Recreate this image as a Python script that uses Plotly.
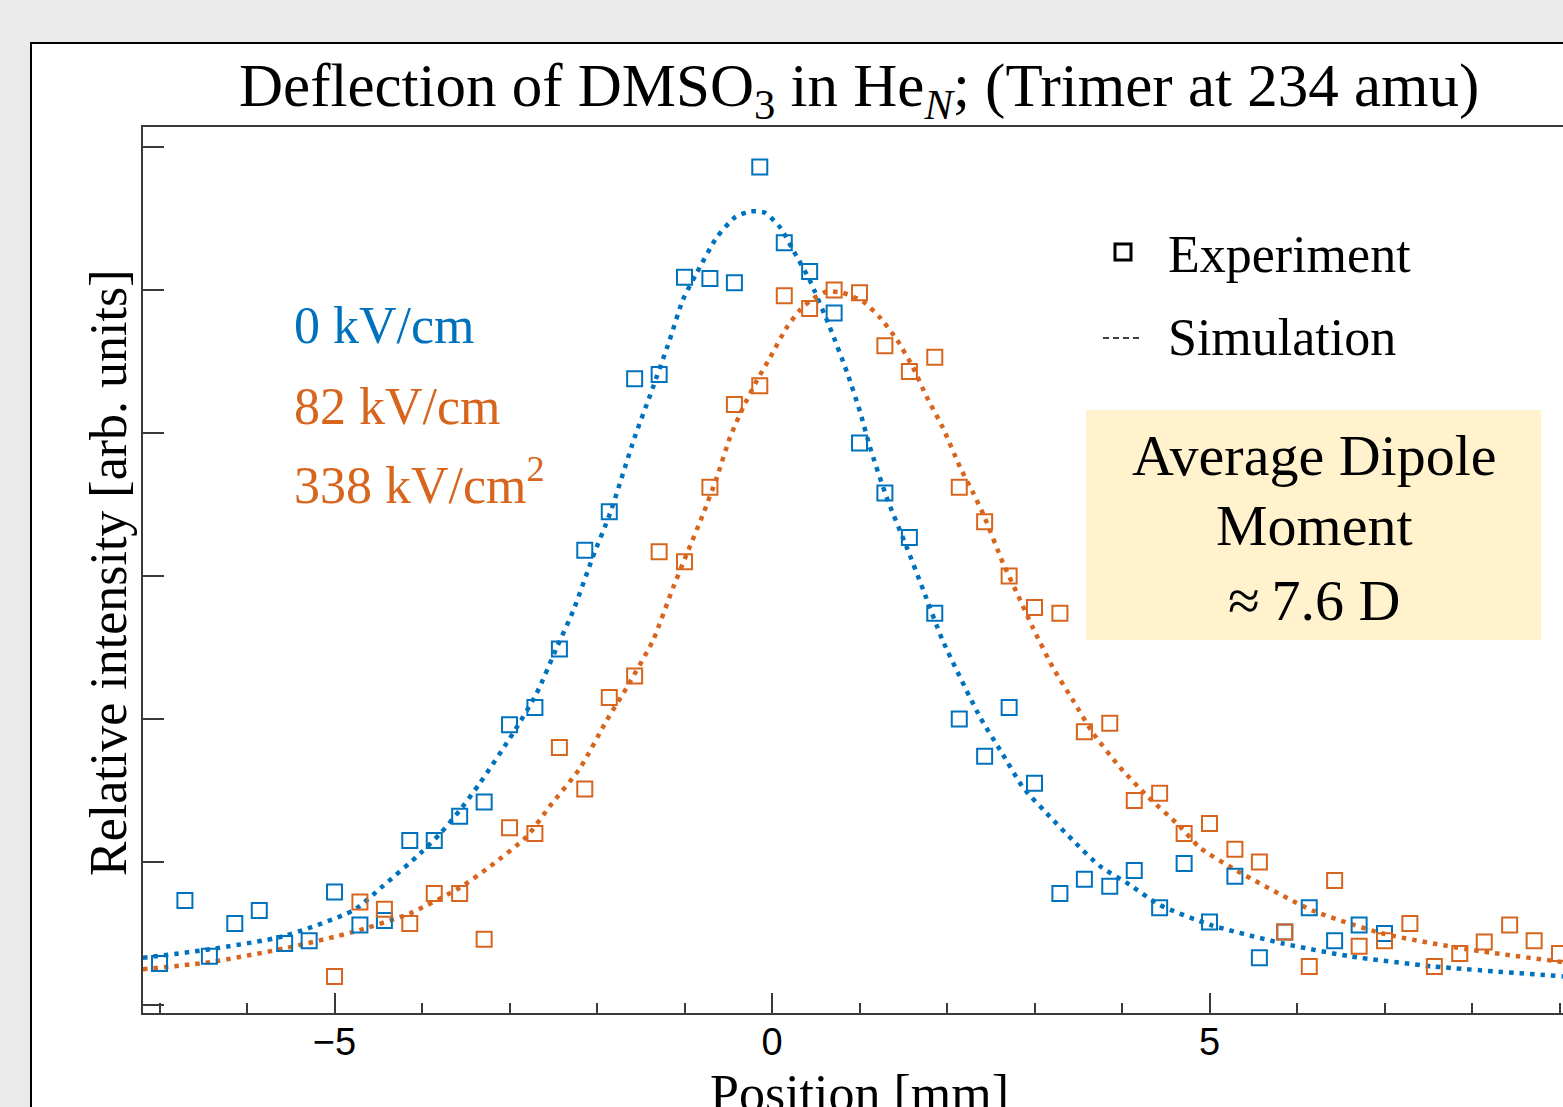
import plotly.graph_objects as go

# ---------------- data ----------------
exp0_x = [-7.00, -6.71, -6.43, -6.14, -5.86, -5.57, -5.29, -5.00, -4.71, -4.43,
          -4.14, -3.86, -3.57, -3.29, -3.00, -2.71, -2.43, -2.14, -1.86, -1.57,
          -1.29, -1.00, -0.71, -0.43, -0.14, 0.14, 0.43, 0.71, 1.00, 1.29,
          1.57, 1.86, 2.14, 2.43, 2.71, 3.00, 3.29, 3.57, 3.86, 4.14,
          4.43, 4.71, 5.00, 5.29, 5.57, 5.86, 6.14, 6.43, 6.71, 7.00]
exp0_y = [0.29, 0.73, 0.34, 0.57, 0.66, 0.43, 0.45, 0.79, 0.56, 0.59,
          1.15, 1.15, 1.32, 1.42, 1.96, 2.08, 2.49, 3.18, 3.45, 4.38,
          4.41, 5.09, 5.08, 5.05, 5.86, 5.33, 5.13, 4.84, 3.93, 3.58,
          3.27, 2.74, 2.00, 1.74, 2.08, 1.55, 0.78, 0.88, 0.83, 0.94,
          0.68, 0.99, 0.58, 0.90, 0.33, 0.51, 0.68, 0.45, 0.56, 0.50]

exp82_x = [-5.00, -4.71, -4.43, -4.14, -3.86, -3.57, -3.29, -3.00, -2.71, -2.43,
           -2.14, -1.86, -1.57, -1.29, -1.00, -0.71, -0.43, -0.14, 0.14, 0.43,
           0.71, 1.00, 1.29, 1.57, 1.86, 2.14, 2.43, 2.71, 3.00, 3.29,
           3.57, 3.86, 4.14, 4.43, 4.71, 5.00, 5.29, 5.57, 5.86, 6.14,
           6.43, 6.71, 7.00, 7.29, 7.57, 7.86, 8.14, 8.43, 8.71, 9.00]
exp82_y = [0.20, 0.72, 0.67, 0.57, 0.78, 0.78, 0.46, 1.24, 1.20, 1.80,
           1.51, 2.15, 2.30, 3.17, 3.10, 3.62, 4.20, 4.33, 4.96, 4.87,
           5.00, 4.98, 4.61, 4.43, 4.53, 3.62, 3.38, 3.00, 2.78, 2.74,
           1.91, 1.97, 1.43, 1.48, 1.20, 1.27, 1.09, 1.00, 0.51, 0.27,
           0.87, 0.41, 0.45, 0.57, 0.27, 0.36, 0.44, 0.56, 0.45, 0.36]

sim0_x = [-7.19, -6.42, -5.59, -4.79, -4.45, -4.02, -3.79, -3.57, -3.34, -2.96,
          -2.69, -2.46, -2.27, -2.05, -1.85, -1.57, -1.39, -1.17, -1.02, -0.86,
          -0.63, -0.42, -0.25, -0.08, 0.09, 0.24, 0.43, 0.66, 0.86, 1.01,
          1.12, 1.31, 1.54, 1.73, 1.95, 2.38, 2.61, 2.87, 3.14, 3.44,
          3.75, 4.09, 4.43, 5.01, 5.84, 6.61, 7.55, 9.04]
sim0_y = [0.33, 0.39, 0.48, 0.66, 0.83, 1.06, 1.20, 1.36, 1.55, 1.90,
          2.18, 2.50, 2.76, 3.13, 3.44, 3.97, 4.27, 4.65, 4.93, 5.12,
          5.37, 5.51, 5.55, 5.54, 5.44, 5.28, 5.07, 4.74, 4.42, 4.14,
          3.90, 3.55, 3.20, 2.90, 2.55, 2.01, 1.78, 1.52, 1.34, 1.15,
          0.97, 0.84, 0.70, 0.56, 0.43, 0.34, 0.27, 0.20]

sim82_x = [-7.19, -6.42, -5.54, -4.79, -4.14, -3.57, -3.22, -2.80, -2.54, -2.19,
           -1.89, -1.66, -1.36, -1.13, -0.97, -0.79, -0.63, -0.48, -0.33, -0.17,
           -0.02, 0.17, 0.32, 0.47, 0.63, 0.81, 1.04, 1.23, 1.43, 1.61,
           1.77, 1.95, 2.15, 2.30, 2.43, 2.64, 2.80, 2.98, 3.21, 3.44,
           3.67, 3.98, 4.29, 4.66, 4.89, 5.31, 6.18, 6.98, 7.94, 9.04]
sim82_y = [0.25, 0.30, 0.40, 0.51, 0.64, 0.82, 0.97, 1.18, 1.39, 1.66,
           1.99, 2.22, 2.55, 2.92, 3.16, 3.43, 3.69, 3.97, 4.18, 4.37,
           4.53, 4.74, 4.86, 4.94, 4.99, 4.98, 4.92, 4.81, 4.65, 4.46,
           4.25, 4.04, 3.76, 3.58, 3.41, 3.09, 2.88, 2.64, 2.36, 2.13,
           1.90, 1.66, 1.46, 1.25, 1.10, 0.94, 0.66, 0.50, 0.39, 0.30]

x_tick_vals = [-5, 0, 5]
x_tick_text = ["\u22125", "0", "5"]
y_tick_vals = [0, 1, 2, 3, 4, 5, 6]

title_text = "Deflection of DMSO<sub>3</sub> in He<sub><i>N</i></sub>; (Trimer at 234 amu)"
field_labels = ["0 kV/cm", "82 kV/cm", "338 kV/cm<sup>2</sup>"]
legend_labels = ["Experiment", "Simulation"]
box_lines = ["Average Dipole", "Moment", "\u2248\u20097.6 D"]

# ---------------- style ----------------
W, H = 1563, 1107
L, R, T, B = 143, 0, 127, 94
BLUE = "#0072BD"
ORANGE = "#D8651E"
SERIF = "Liberation Serif, Times New Roman, serif"
SANS = "Liberation Sans, Arial, sans-serif"
AXC = "#3a3a3a"


def px(xp):
    return (xp - L) / (W - L - R)


def py(yp):
    return (H - B - yp) / (H - T - B)


fig = go.Figure()

fig.add_trace(go.Scatter(x=sim0_x, y=sim0_y, mode="lines", showlegend=False,
                         line=dict(color=BLUE, width=4.5, dash="4.5px,6px", shape="spline", smoothing=0.6)))
fig.add_trace(go.Scatter(x=sim82_x, y=sim82_y, mode="lines", showlegend=False,
                         line=dict(color=ORANGE, width=4.5, dash="4.5px,6px", shape="spline", smoothing=0.6)))
fig.add_trace(go.Scatter(x=exp0_x, y=exp0_y, mode="markers", showlegend=False,
                         marker=dict(symbol="square-open", size=15, color=BLUE, line=dict(width=2, color=BLUE))))
fig.add_trace(go.Scatter(x=exp82_x, y=exp82_y, mode="markers", showlegend=False,
                         marker=dict(symbol="square-open", size=15, color=ORANGE, line=dict(width=2, color=ORANGE))))

shapes = [
    # white panel with black frame
    dict(type="rect", xref="paper", yref="paper", x0=px(31), x1=1.2, y0=-0.3, y1=py(43),
         fillcolor="white", line=dict(color="black", width=2), layer="below"),
    # annotation box
    dict(type="rect", xref="paper", yref="paper", x0=px(1086), x1=px(1541), y0=py(640), y1=py(410),
         fillcolor="#FFF2CC", line=dict(width=0), layer="above"),
    # legend symbols
    dict(type="rect", xref="paper", yref="paper", x0=px(1115), x1=px(1131), y0=py(260), y1=py(244),
         fillcolor="rgba(0,0,0,0)", line=dict(color="black", width=3), layer="above"),
    dict(type="line", xref="paper", yref="paper", x0=px(1103), x1=px(1141), y0=py(338), y1=py(338),
         line=dict(color="black", width=1.5, dash="6px,4px"), layer="above"),
]

annotations = [
    dict(text=title_text, xref="paper", yref="paper", x=px(859), y=py(50), xanchor="center", yanchor="top",
         showarrow=False, font=dict(family=SERIF, size=61, color="black")),
    dict(text="Relative intensity [arb. units]", xref="paper", yref="paper", x=px(108), y=py(573),
         xanchor="center", yanchor="middle", textangle=-90, showarrow=False,
         font=dict(family=SERIF, size=52, color="black")),
    dict(text="Position [mm]", xref="paper", yref="paper", x=px(859), y=py(1063), xanchor="center",
         yanchor="top", showarrow=False, font=dict(family=SERIF, size=52, color="black")),
]

label_y = [325, 407, 481]
label_c = [BLUE, ORANGE, ORANGE]
for t, yy, c in zip(field_labels, label_y, label_c):
    annotations.append(dict(text=t, xref="paper", yref="paper", x=px(292), y=py(yy), xanchor="left",
                            yanchor="middle", showarrow=False, font=dict(family=SERIF, size=52, color=c)))

legend_base = [272, 355]
for t, b in zip(legend_labels, legend_base):
    annotations.append(dict(text=t, xref="paper", yref="paper", x=px(1166), y=py(b - 0.3375 * 52),
                            xanchor="left", yanchor="middle", showarrow=False,
                            font=dict(family=SERIF, size=52, color="black")))

box_base = [475, 545, 620]
for t, b in zip(box_lines, box_base):
    annotations.append(dict(text=t, xref="paper", yref="paper", x=px(1314), y=py(b - 0.3375 * 58),
                            xanchor="center", yanchor="middle", showarrow=False,
                            font=dict(family=SERIF, size=58, color="black")))

fig.update_layout(
    width=W, height=H,
    margin=dict(l=L, r=R, t=T, b=B, pad=0),
    paper_bgcolor="#EAEAEA",
    plot_bgcolor="white",
    shapes=shapes,
    annotations=annotations,
    showlegend=False,
    xaxis=dict(range=[-7.189, 9.040], tickvals=x_tick_vals, ticktext=x_tick_text,
               ticks="inside", ticklen=20, tickwidth=1.5, tickcolor=AXC,
               minor=dict(dtick=1, tick0=0, ticks="inside", ticklen=10, tickwidth=1.5, tickcolor=AXC, showgrid=False),
               showline=True, linecolor=AXC, linewidth=2, mirror=True,
               showgrid=False, zeroline=False, ticklabelstandoff=-6,
               tickfont=dict(family=SANS, size=38, color="black")),
    yaxis=dict(range=[-0.056, 6.140], tickvals=y_tick_vals, showticklabels=False,
               ticks="inside", ticklen=21, tickwidth=1.5, tickcolor=AXC,
               showline=True, linecolor=AXC, linewidth=2, mirror=False,
               showgrid=False, zeroline=False),
)

fig.write_html("out.html")
